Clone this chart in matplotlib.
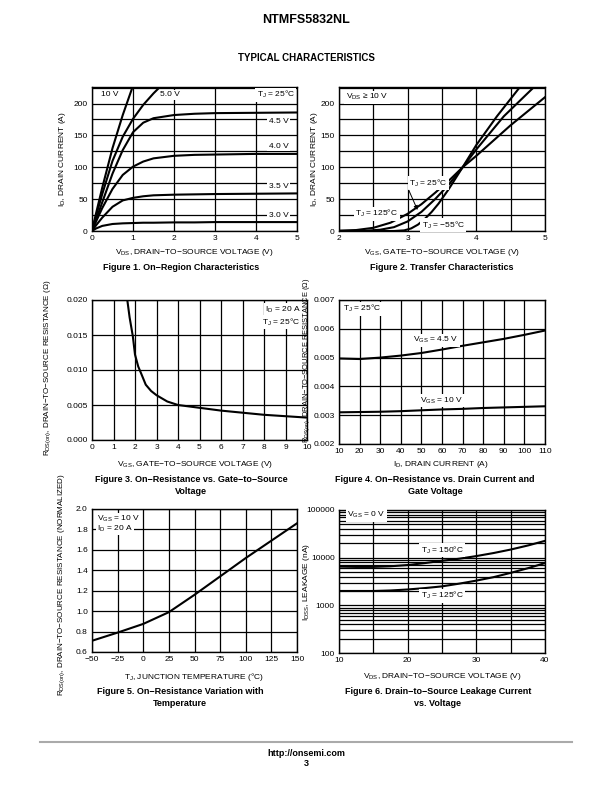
import numpy as np
import matplotlib
matplotlib.use('Agg')
import matplotlib.pyplot as plt
from matplotlib.ticker import FixedLocator, NullFormatter, LogLocator

plt.rcParams['font.family'] = ['Liberation Sans', 'DejaVu Sans']
plt.rcParams['mathtext.fontset'] = 'custom'
plt.rcParams['mathtext.rm'] = 'Liberation Sans'
plt.rcParams['mathtext.it'] = 'Liberation Sans'
plt.rcParams['axes.unicode_minus'] = True

# ---- Figure 1: on-region characteristics
vds1 = [0, 0.1, 0.25, 0.5, 0.75, 1.0, 1.25, 1.5, 2.0, 2.5, 3.0, 4.0, 5.0]
id_30 = [0, 4, 8, 11, 12, 12.5, 13, 13, 13.5, 13.5, 14, 14, 14]
id_35 = [0, 9, 21, 38, 48, 52, 54.5, 56, 57, 57.5, 58, 58.5, 59]
id_40 = [0, 15, 36, 66, 88, 101, 109, 114, 118, 119.5, 120, 121, 121]
id_45 = [0, 18, 45, 90, 127, 155, 170, 177, 182, 184, 185, 185.5, 186]
vds1_50 = [0, 0.1, 0.25, 0.5, 0.75, 1.0, 1.25, 1.5, 1.75]
id_50 = [0, 24, 58, 110, 148, 176, 198, 216, 232]
vds1_10 = [0, 0.1, 0.25, 0.5, 0.75, 1.0]
id_10 = [0, 28, 68, 130, 182, 228]

# ---- Figure 2: transfer characteristics
vgs_m55 = [2.0, 2.8, 2.95, 3.05, 3.15, 3.25, 3.35, 3.45, 3.6, 3.8, 4.0, 4.3, 4.65]
id_m55 = [0, 0, 1, 4, 10, 19, 30, 43, 66, 100, 135, 180, 228]
vgs_25 = [2.0, 2.4, 2.6, 2.8, 3.0, 3.2, 3.4, 3.6, 3.8, 4.0, 4.4, 4.86]
id_25 = [0, 0.5, 2, 6, 15, 30, 50, 73, 100, 128, 180, 228]
vgs_125 = [2.0, 2.25, 2.5, 2.75, 3.0, 3.2, 3.4, 3.6, 3.8, 4.0, 4.5, 5.0]
id_125 = [0.5, 1.5, 5, 13, 27, 42, 60, 79, 100, 118, 166, 210]

# ---- Figure 3: Rds(on) vs Vgs
vgs3 = [1.62, 1.75, 1.9, 2.0, 2.15, 2.3, 2.5, 2.75, 3.0, 3.5, 4.0, 5.0, 6.0, 7.0, 8.0, 9.0, 10.0]
rds3 = [0.0205, 0.0175, 0.0148, 0.0122, 0.0105, 0.0094, 0.0079, 0.0070, 0.0064,
        0.0055, 0.0050, 0.0046, 0.0042, 0.0039, 0.0036, 0.0034, 0.0032]

# ---- Figure 4: Rds(on) vs Id
id4 = [10, 20, 30, 40, 50, 60, 70, 80, 90, 100, 110]
rds_45 = [0.00497, 0.00495, 0.00500, 0.00507, 0.00516, 0.00528, 0.00541, 0.00553, 0.00565, 0.00579, 0.00594]
rds_10 = [0.00310, 0.00311, 0.00312, 0.00314, 0.00317, 0.00320, 0.00322, 0.00325, 0.00327, 0.00329, 0.00331]

# ---- Figure 5: normalized Rds(on) vs Tj
tj5 = [-50, -25, 0, 25, 50, 75, 100, 125, 150]
rn5 = [0.71, 0.79, 0.875, 0.99, 1.16, 1.34, 1.52, 1.69, 1.86]

# ---- Figure 6: leakage vs Vds
vds6 = [10, 12.5, 15, 17.5, 20, 22.5, 25, 27.5, 30, 32.5, 35, 37.5, 40]
leak_150 = [6500, 6400, 6400, 6600, 7000, 7700, 8600, 9500, 10800, 12500, 14800, 18000, 22500]
leak_125 = [2000, 2000, 2000, 2050, 2150, 2300, 2500, 2850, 3300, 3900, 4800, 6000, 7700]

W, H = 612, 792
fig = plt.figure(figsize=(W / 100, H / 100), dpi=100)


def box(l, t, r, b):
    return [l / W, 1 - b / H, (r - l) / W, (b - t) / H]


def txt(x, y, s, **kw):
    kw.setdefault('ha', 'center')
    kw.setdefault('va', 'center')
    kw.setdefault('fontsize', 6)
    fig.text(x / W, 1 - y / H, s, **kw)


def style(ax):
    for sp in ax.spines.values():
        sp.set_linewidth(1.0)
    ax.tick_params(length=0, labelsize=6, pad=3)
    ax.grid(True, which='major', color='black', linewidth=0.9)
    ax.set_axisbelow(True)


lw = 1.5
wb = dict(facecolor='white', edgecolor='none', pad=1.0)

# Figure 1
ax1 = fig.add_axes(box(92, 87, 297, 231))
for x, y in [(vds1, id_30), (vds1, id_35), (vds1, id_40), (vds1, id_45),
             (vds1_50, id_50), (vds1_10, id_10)]:
    ax1.plot(x, y, color='black', lw=lw)
ax1.set_xlim(0, 5)
ax1.set_ylim(0, 226)
ax1.set_xticks([0, 1, 2, 3, 4, 5])
ax1.yaxis.set_major_locator(FixedLocator([0, 25, 50, 75, 100, 125, 150, 175, 200, 225]))
ax1.set_yticklabels(['0', '', '50', '', '100', '', '150', '', '200', ''])
style(ax1)
ax1.text(0.43, 214, '10 V', fontsize=6, ha='center', va='center', bbox=wb)
ax1.text(1.9, 214, '5.0 V', fontsize=6, ha='center', va='center', bbox=wb)
ax1.text(4.95, 214, 'T$_\\mathregular{J}$ = 25°C', fontsize=6, ha='right', va='center', bbox=wb)
ax1.text(4.55, 172, '4.5 V', fontsize=6, ha='center', va='center', bbox=wb)
ax1.text(4.55, 133, '4.0 V', fontsize=6, ha='center', va='center', bbox=wb)
ax1.text(4.55, 70, '3.5 V', fontsize=6, ha='center', va='center', bbox=wb)
ax1.text(4.55, 25, '3.0 V', fontsize=6, ha='center', va='center', bbox=wb)

# Figure 2
ax2 = fig.add_axes(box(339, 87, 545, 231))
for x, y in [(vgs_m55, id_m55), (vgs_25, id_25), (vgs_125, id_125)]:
    ax2.plot(x, y, color='black', lw=lw)
ax2.set_xlim(2, 5)
ax2.set_ylim(0, 226)
ax2.xaxis.set_major_locator(FixedLocator([2, 2.5, 3, 3.5, 4, 4.5, 5]))
ax2.set_xticklabels(['2', '', '3', '', '4', '', '5'])
ax2.yaxis.set_major_locator(FixedLocator([0, 25, 50, 75, 100, 125, 150, 175, 200, 225]))
ax2.set_yticklabels(['0', '', '50', '', '100', '', '150', '', '200', ''])
style(ax2)
ax2.text(2.1, 210, 'V$_\\mathregular{DS}$ ≥ 10 V', fontsize=6, ha='left', va='center', bbox=wb)
ax2.text(3.3, 75, 'T$_\\mathregular{J}$ = 25°C', fontsize=6, ha='center', va='center', bbox=wb)
ax2.text(2.55, 27, 'T$_\\mathregular{J}$ = 125°C', fontsize=6, ha='center', va='center', bbox=wb)
ax2.text(3.52, 9, 'T$_\\mathregular{J}$ = −55°C', fontsize=6, ha='center', va='center', bbox=wb)
ax2.annotate('', xy=(3.16, 29), xytext=(3.0, 68),
             arrowprops=dict(arrowstyle='-|>', color='black', lw=0.7, mutation_scale=6))

# Figure 3
ax3 = fig.add_axes(box(92, 300, 307, 440))
ax3.plot(vgs3, rds3, color='black', lw=lw)
ax3.set_xlim(0, 10)
ax3.set_ylim(0, 0.020)
ax3.set_xticks(range(0, 11))
ax3.set_yticks([0, 0.005, 0.010, 0.015, 0.020])
ax3.set_yticklabels(['0.000', '0.005', '0.010', '0.015', '0.020'])
style(ax3)
ax3.text(9.7, 0.0186, 'I$_\\mathregular{D}$ = 20 A', fontsize=6, ha='right', va='center', bbox=wb)
ax3.text(9.7, 0.0168, 'T$_\\mathregular{J}$ = 25°C', fontsize=6, ha='right', va='center', bbox=wb)

# Figure 4
ax4 = fig.add_axes(box(339, 300, 545, 444))
ax4.plot(id4, rds_45, color='black', lw=lw)
ax4.plot(id4, rds_10, color='black', lw=lw)
ax4.set_xlim(10, 110)
ax4.set_ylim(0.002, 0.007)
ax4.set_xticks(range(10, 111, 10))
ax4.set_yticks([0.002, 0.003, 0.004, 0.005, 0.006, 0.007])
ax4.set_yticklabels(['0.002', '0.003', '0.004', '0.005', '0.006', '0.007'])
style(ax4)
ax4.text(21, 0.0067, 'T$_\\mathregular{J}$ = 25°C', fontsize=6, ha='center', va='center', bbox=wb)
ax4.text(57, 0.00561, 'V$_\\mathregular{GS}$ = 4.5 V', fontsize=6, ha='center', va='center', bbox=wb)
ax4.text(60, 0.00350, 'V$_\\mathregular{GS}$ = 10 V', fontsize=6, ha='center', va='center', bbox=wb)

# Figure 5
ax5 = fig.add_axes(box(92, 509, 297, 652))
ax5.plot(tj5, rn5, color='black', lw=lw)
ax5.set_xlim(-50, 150)
ax5.set_ylim(0.6, 2.0)
ax5.set_xticks(range(-50, 151, 25))
ax5.set_yticks([0.6, 0.8, 1.0, 1.2, 1.4, 1.6, 1.8, 2.0])
ax5.set_yticklabels(['0.6', '0.8', '1.0', '1.2', '1.4', '1.6', '1.8', '2.0'])
style(ax5)
ax5.text(-45, 1.9, 'V$_\\mathregular{GS}$ = 10 V', fontsize=6, ha='left', va='center', bbox=wb)
ax5.text(-45, 1.81, 'I$_\\mathregular{D}$ = 20 A', fontsize=6, ha='left', va='center', bbox=wb)

# Figure 6
ax6 = fig.add_axes(box(339, 510, 545, 653))
ax6.plot(vds6, leak_150, color='black', lw=lw)
ax6.plot(vds6, leak_125, color='black', lw=lw)
ax6.set_yscale('log')
ax6.set_xlim(10, 40)
ax6.set_ylim(100, 100000)
ax6.xaxis.set_major_locator(FixedLocator([10, 15, 20, 25, 30, 35, 40]))
ax6.set_xticklabels(['10', '', '20', '', '30', '', '40'])
ax6.yaxis.set_major_locator(FixedLocator([100, 1000, 10000, 100000]))
ax6.set_yticklabels(['100', '1000', '10000', '100000'])
ax6.yaxis.set_minor_locator(LogLocator(base=10, subs=np.arange(2, 10)))
ax6.yaxis.set_minor_formatter(NullFormatter())
style(ax6)
ax6.tick_params(which='minor', length=0)
ax6.grid(True, which='minor', axis='y', color='black', linewidth=0.9)
ax6.text(14, 78000, 'V$_\\mathregular{GS}$ = 0 V', fontsize=6, ha='center', va='center', bbox=wb)
ax6.text(25, 14500, 'T$_\\mathregular{J}$ = 150°C', fontsize=6, ha='center', va='center', bbox=wb)
ax6.text(25, 1600, 'T$_\\mathregular{J}$ = 125°C', fontsize=6, ha='center', va='center', bbox=wb)

# axis titles
txt(194, 252, 'V$_\\mathregular{DS}$, DRAIN−TO−SOURCE VOLTAGE (V)')
txt(62, 159, 'I$_\\mathregular{D}$, DRAIN CURRENT (A)', rotation=90)
txt(442, 252, 'V$_\\mathregular{GS}$, GATE−TO−SOURCE VOLTAGE (V)')
txt(315, 159, 'I$_\\mathregular{D}$, DRAIN CURRENT (A)', rotation=90)
txt(195, 464, 'V$_\\mathregular{GS}$, GATE−TO−SOURCE VOLTAGE (V)')
txt(48, 368, 'R$_\\mathregular{DS(on)}$, DRAIN−TO−SOURCE RESISTANCE (Ω)', rotation=90, fontsize=5.8)
txt(441, 464, 'I$_\\mathregular{D}$, DRAIN CURRENT (A)')
txt(307, 360, 'R$_\\mathregular{DS(on)}$, DRAIN−TO−SOURCE RESISTANCE (Ω)', rotation=90, fontsize=5.4)
txt(194, 677, 'T$_\\mathregular{J}$, JUNCTION TEMPERATURE (°C)')
txt(62, 585, 'R$_\\mathregular{DS(on)}$, DRAIN−TO−SOURCE RESISTANCE (NORMALIZED)', rotation=90, fontsize=5.8)
txt(442, 677, 'V$_\\mathregular{DS}$, DRAIN−TO−SOURCE VOLTAGE (V)')
txt(306, 582, 'I$_\\mathregular{DSS}$, LEAKAGE (nA)', rotation=90)

# captions
cap = dict(fontsize=6.5, fontweight='bold')
txt(181, 268, 'Figure 1. On−Region Characteristics', **cap)
txt(442, 268, 'Figure 2. Transfer Characteristics', **cap)
txt(191, 480, 'Figure 3. On−Resistance vs. Gate−to−Source', **cap)
txt(191, 491, 'Voltage', **cap)
txt(435, 480, 'Figure 4. On−Resistance vs. Drain Current and', **cap)
txt(435, 491, 'Gate Voltage', **cap)
txt(180, 692, 'Figure 5. On−Resistance Variation with', **cap)
txt(180, 704, 'Temperature', **cap)
txt(438, 692, 'Figure 6. Drain−to−Source Leakage Current', **cap)
txt(438, 704, 'vs. Voltage', **cap)

# page header / footer
txt(306, 20, 'NTMFS5832NL', fontsize=9, fontweight='bold')
txt(306, 58, 'TYPICAL CHARACTERISTICS', fontsize=7, fontweight='bold')
fig.add_artist(plt.Line2D([40 / W, 572 / W], [1 - 742 / H, 1 - 742 / H], color='#aaaaaa', lw=1.5))
txt(306, 753, 'http://onsemi.com', fontsize=6.5, fontweight='bold')
txt(306, 764, '3', fontsize=6.5, fontweight='bold')

fig.savefig('out.png', dpi=100)
